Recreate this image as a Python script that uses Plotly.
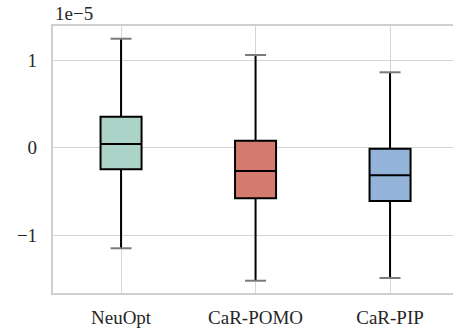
import plotly.graph_objects as go

categories = ["NeuOpt", "CaR-POMO", "CaR-PIP"]
upper_fence = [1.243e-5, 1.057e-5, 0.860e-5]
q3_values = [0.353e-5, 0.080e-5, -0.011e-5]
medians = [0.042e-5, -0.266e-5, -0.315e-5]
q1_values = [-0.246e-5, -0.577e-5, -0.608e-5]
lower_fence = [-1.147e-5, -1.517e-5, -1.486e-5]
colors = ["#acd3c7", "#d57a6f", "#93b3d8"]
y_tick_vals = [-1e-5, 0, 1e-5]
y_tick_text = ["\u22121", "0", "1"]

FONT = "Liberation Serif, Times New Roman, serif"
box_w = 0.305
cap_half = 0.078

fig = go.Figure()
for i, name in enumerate(categories):
    fig.add_trace(go.Box(
        x=[i], q1=[q1_values[i]], median=[medians[i]], q3=[q3_values[i]],
        lowerfence=[lower_fence[i]], upperfence=[upper_fence[i]],
        width=box_w, whiskerwidth=0, fillcolor=colors[i],
        line=dict(color="black", width=2), boxpoints=False,
        hoverinfo="skip", showlegend=False,
    ))
    cx, cy = [], []
    for v in (upper_fence[i], lower_fence[i]):
        cx += [i - cap_half, i + cap_half, None]
        cy += [v, v, None]
    fig.add_trace(go.Scatter(
        x=cx, y=cy, mode="lines", line=dict(color="#7a7a7a", width=2),
        hoverinfo="skip", showlegend=False,
    ))

fig.update_layout(
    width=453, height=330,
    margin=dict(l=53, r=0, t=26, b=37, autoexpand=False),
    paper_bgcolor="white", plot_bgcolor="white",
    font=dict(family=FONT, size=19, color="#262626"),
    xaxis=dict(
        range=[-0.506, 2.468], tickvals=list(range(len(categories))),
        ticktext=categories, showgrid=True, gridcolor="#d6d6d6", gridwidth=1.3,
        zeroline=False, showline=True, linecolor="#cfcfcf", linewidth=2.2,
        mirror=True, ticks="", ticklabelstandoff=6, automargin=False,
    ),
    yaxis=dict(
        range=[-1.657e-5, 1.388e-5], tickvals=y_tick_vals, ticktext=y_tick_text,
        showgrid=True, gridcolor="#d6d6d6", gridwidth=1.3, zeroline=False,
        showline=True, linecolor="#cfcfcf", linewidth=2.2, ticks="",
        ticklabelstandoff=10, automargin=False,
    ),
    annotations=[dict(
        text="1e\u22125", xref="paper", yref="paper", x=0, y=1,
        xanchor="left", yanchor="bottom", showarrow=False, yshift=0,
        font=dict(family=FONT, size=19, color="#262626"),
    )],
)

fig.write_html(
    "out.html",
    config={"displayModeBar": False},
    post_script="document.body.style.margin='0';document.body.style.padding='0';",
)
